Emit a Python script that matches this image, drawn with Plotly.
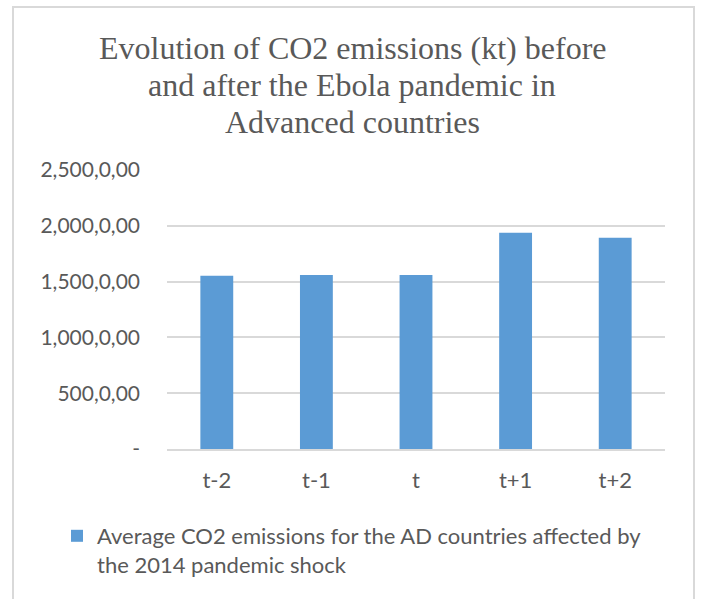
import plotly.graph_objects as go

# Periods around the 2014 shock and the average CO2 emissions (kt)
periods = ["t-2", "t-1", "t", "t+1", "t+2"]
avg_co2 = [1553, 1560, 1560, 1938, 1892]

# Y-axis ticks with their printed labels
y_tick_vals = [0, 500, 1000, 1500, 2000, 2500]
y_tick_text = ["-", "500,0,00", "1,000,0,00", "1,500,0,00", "2,000,0,00", "2,500,0,00"]

title_lines = [
    "Evolution of CO2 emissions (kt) before",
    "and after the Ebola pandemic in",
    "Advanced countries",
]
series_name = "Average CO2 emissions for the AD countries affected by<br>the 2014 pandemic shock"

W, H = 701, 599
left, right, top, bottom = 167, 36, 170, 150
pw = W - left - right
ph = H - top - bottom

GRID = "#d9d9d9"
TEXT = "#595959"
BAR = "#5b9bd5"

fig = go.Figure(
    go.Bar(
        x=periods,
        y=avg_co2,
        name=series_name,
        marker=dict(color=BAR, line=dict(width=0)),
        showlegend=True,
    )
)


def px_x(x):
    return (x - left) / pw


def px_y(y):
    return (H - bottom - y) / ph


# Light outer frame around the chart
fig.add_shape(
    type="rect", xref="paper", yref="paper",
    x0=px_x(13), x1=px_x(694), y0=px_y(640), y1=px_y(7),
    line=dict(color=GRID, width=2), fillcolor="rgba(0,0,0,0)", layer="below",
)

# Three-line chart title with tight serif line spacing
for i, line in enumerate(title_lines):
    fig.add_annotation(
        text=line, showarrow=False,
        xref="paper", yref="paper",
        x=px_x(352), xanchor="center",
        y=px_y(48 + 37 * i), yanchor="middle",
        font=dict(family="Liberation Serif", size=32, color=TEXT),
    )

fig.update_layout(
    width=W, height=H,
    margin=dict(l=left, r=right, t=top, b=bottom, pad=0),
    paper_bgcolor="white", plot_bgcolor="white",
    bargap=0.67,
    xaxis=dict(
        showgrid=False, zeroline=False,
        showline=True, linecolor=GRID, linewidth=1.5,
        ticks="", ticklabelstandoff=11,
        tickfont=dict(family="Lato", size=22, color=TEXT),
    ),
    yaxis=dict(
        range=[0, 2500],
        tickvals=y_tick_vals, ticktext=y_tick_text,
        showgrid=True, gridcolor=GRID, gridwidth=1.5,
        zeroline=False, showline=False, ticks="",
        ticklabelstandoff=26,
        tickfont=dict(family="Lato", size=21, color=TEXT),
    ),
    legend=dict(
        orientation="h",
        x=px_x(57), xanchor="left",
        y=px_y(515), yanchor="top",
        valign="top",
        font=dict(family="Lato", size=22, color=TEXT),
        bgcolor="rgba(0,0,0,0)",
    ),
)

fig.write_html("out.html")
